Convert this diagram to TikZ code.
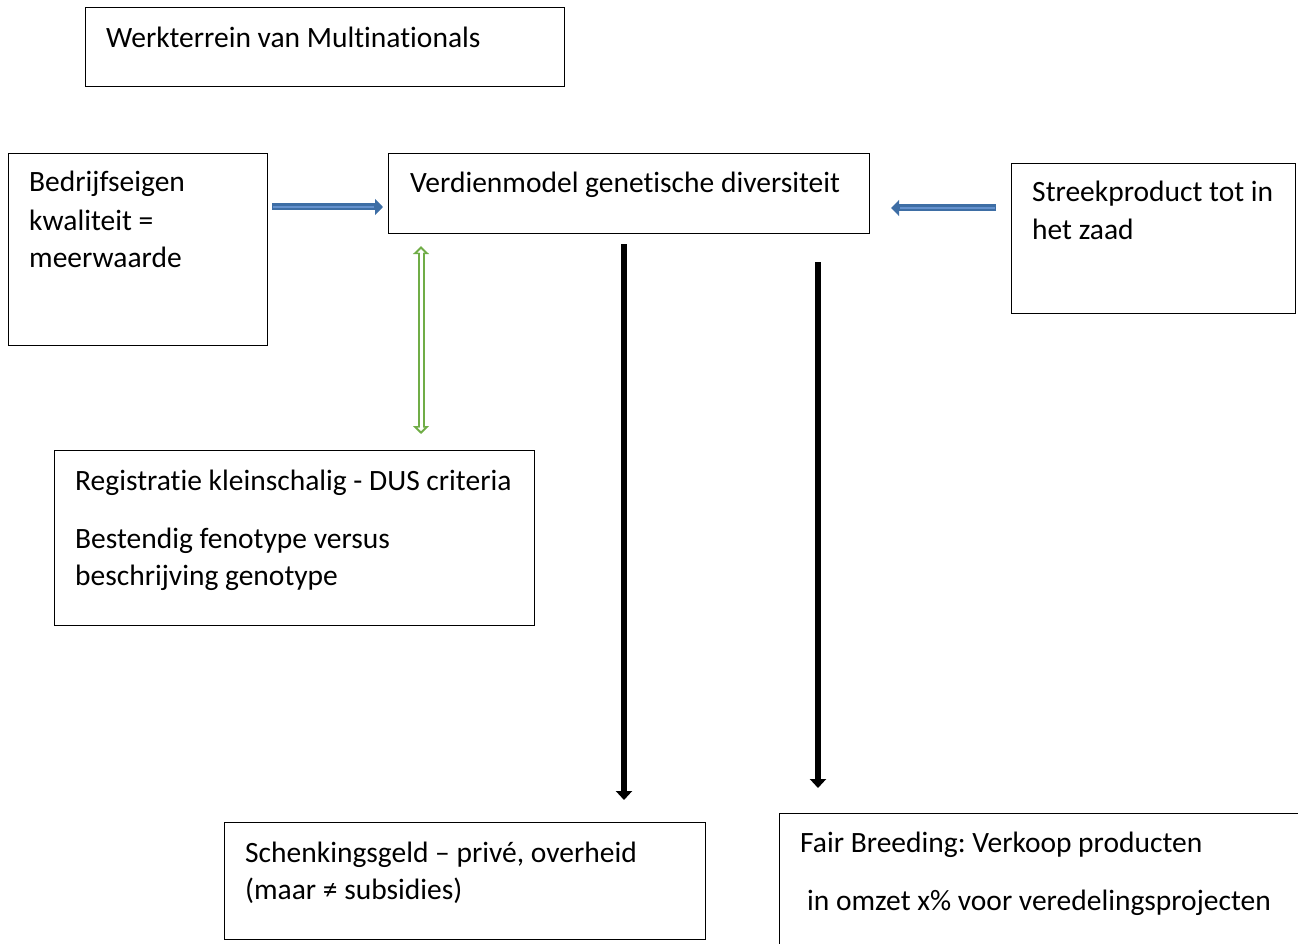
\documentclass[tikz,border=0pt]{standalone}
\usepackage{fontspec}
\setmainfont[Ligatures={NoCommon}]{Carlito}
\usetikzlibrary{arrows.meta}
\frenchspacing
\definecolor{blueD}{RGB}{62,110,165}
\definecolor{blueL}{RGB}{100,145,205}
\definecolor{greenA}{RGB}{112,173,71}
\tikzset{
  box/.style={draw=black, line width=1.2pt, anchor=north west, inner sep=0pt, minimum width=#1},
  txt/.style={anchor=base west, inner sep=0pt, font=\fontsize{29.5}{34}\selectfont},
  bluearrow/.style={draw=blueD, line width=7pt, -{Triangle[width=16pt,length=8pt]}},
  bluecore/.style={draw=blueL, line width=2pt},
  greenarrow/.style={draw=greenA, line width=7pt, {Triangle[width=16pt,length=8pt]}-{Triangle[width=16pt,length=8pt]}},
  greencore/.style={draw=white, line width=3pt, {Triangle[width=7pt,length=3.5pt]}-{Triangle[width=7pt,length=3.5pt]}},
  blackarrow/.style={draw=black, line width=6pt, -{Triangle[width=16pt,length=9pt]}},
}
\begin{document}
\begin{tikzpicture}[x=1pt,y=-1pt]
\useasboundingbox (0,0) rectangle (1298,944);
% boxes
\node[box=479pt, minimum height=79pt] (werk) at (85,7) {};
\node[box=259pt, minimum height=192pt] (bedr) at (8,153) {};
\node[box=481pt, minimum height=80pt] (verd) at (388,153) {};
\node[box=284pt, minimum height=150pt] (streek) at (1011,163) {};
\node[box=480pt, minimum height=175pt] (reg) at (54,450) {};
\node[box=481pt, minimum height=117pt] (schenk) at (224,822) {};
\node[box=522pt, minimum height=140pt] (fair) at (779,813) {};
% texts
\node[txt] (t1) at (106,48) {Werkterrein van Multinationals};
\node[txt] (t2a) at (29,192) {Bedrijfseigen};
\node[txt] (t2b) at (29,230) {kwaliteit =};
\node[txt] (t2c) at (29,267) {meerwaarde};
\node[txt] (t3) at (410,193) {Verdienmodel genetische diversiteit};
\node[txt] (t4a) at (1032,202) {Streekproduct tot in};
\node[txt] (t4b) at (1032,239) {het zaad};
\node[txt] (t5a) at (75,490) {Registratie kleinschalig - DUS criteria};
\node[txt] (t5b) at (75,548) {Bestendig fenotype versus};
\node[txt] (t5c) at (75,585) {beschrijving genotype};
\node[txt] (t6a) at (245,862) {Schenkingsgeld – privé, overheid};
\node[txt] (t6b) at (245,899) {(maar ≠ subsidies)};
\node[txt] (t7a) at (800,852) {Fair Breeding: Verkoop producten};
\node[txt] (t7b) at (807,910) {in omzet x\% voor veredelingsprojecten};
% helper coordinates
\coordinate (ya) at (0,207);
\coordinate (yb) at (0,208);
\coordinate (xg) at (421,0);
\coordinate (xk1) at (624,0);
\coordinate (xk2) at (818,0);
% blue arrows
\draw[bluearrow, shorten <=4pt, shorten >=5pt] (bedr.east |- ya) -- (verd.west |- ya);
\draw[bluecore, shorten <=5pt, shorten >=14pt] (bedr.east |- ya) -- (verd.west |- ya);
\draw[bluearrow, shorten <=15pt, shorten >=21pt] (streek.west |- yb) -- (verd.east |- yb);
\draw[bluecore, shorten <=16pt, shorten >=30pt] (streek.west |- yb) -- (verd.east |- yb);
% green double arrow
\draw[greenarrow, shorten <=12pt, shorten >=16pt] (xg |- verd.south) -- (xg |- reg.north);
\draw[greencore, shorten <=15pt, shorten >=19pt] (xg |- verd.south) -- (xg |- reg.north);
% black arrows
\draw[blackarrow, shorten <=10pt, shorten >=22pt] (xk1 |- verd.south) -- (xk1 |- schenk.north);
\draw[blackarrow, shorten <=28pt, shorten >=25pt] (xk2 |- verd.south) -- (xk2 |- fair.north);
\end{tikzpicture}
\end{document}
